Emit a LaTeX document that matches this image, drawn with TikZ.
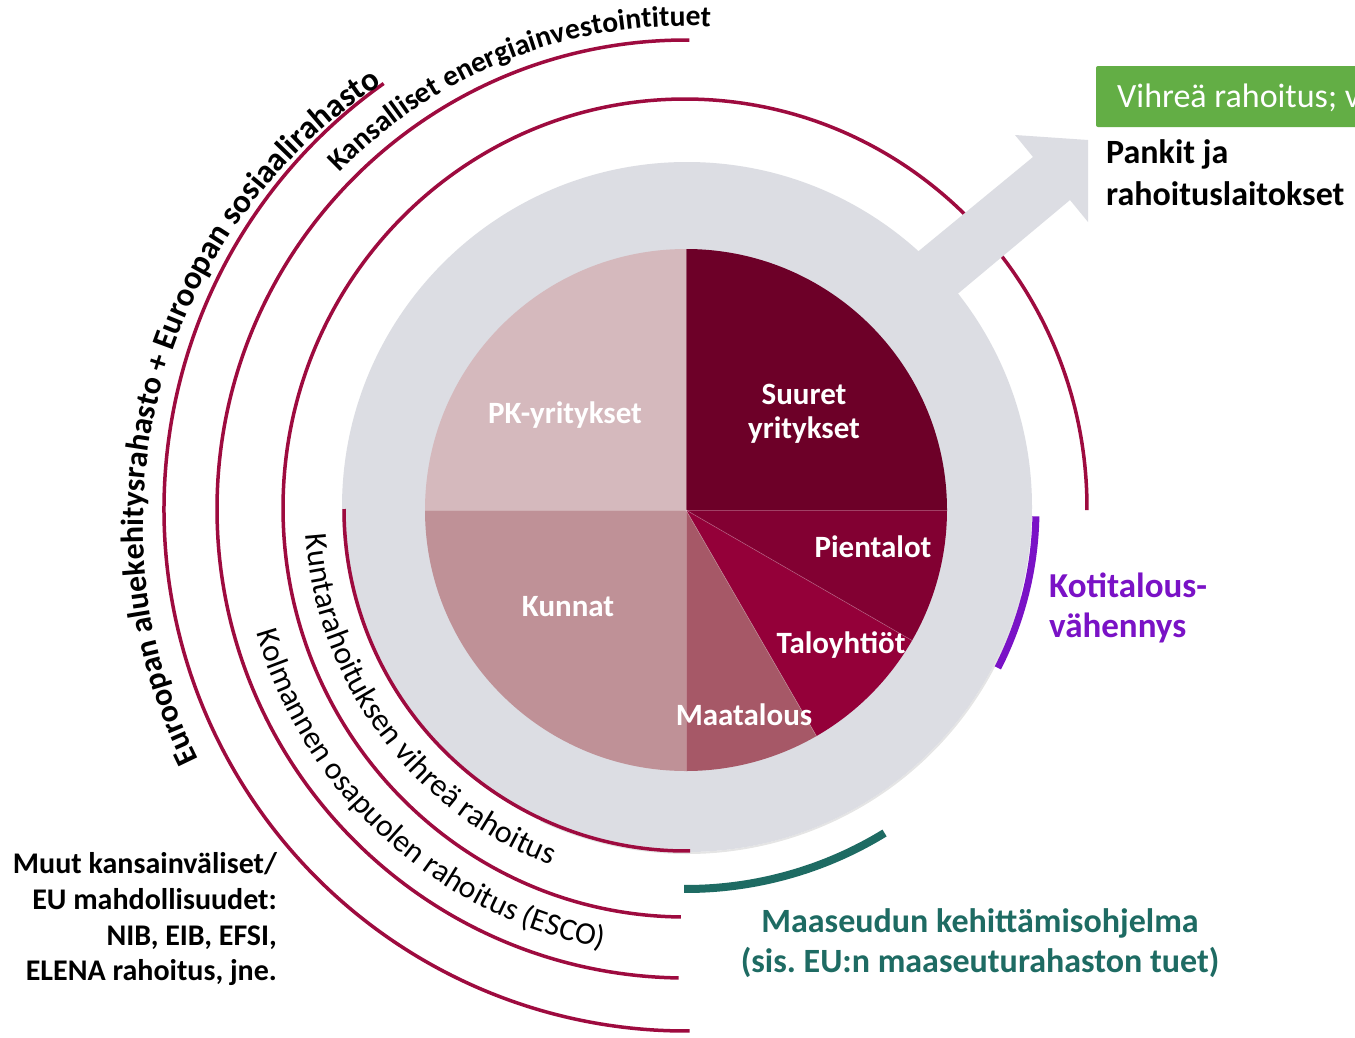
\documentclass[tikz,border=0pt]{standalone}
\usepackage{fontspec}
\setmainfont{Carlito}
\usetikzlibrary{decorations.text}
\frenchspacing
\definecolor{crim}{HTML}{9E0B3F}
\definecolor{ringgray}{HTML}{DCDDE3}
\definecolor{cSuuret}{HTML}{6D0028}
\definecolor{cPien}{HTML}{820032}
\definecolor{cTalo}{HTML}{940039}
\definecolor{cMaa}{HTML}{A65867}
\definecolor{cKunnat}{HTML}{BF9197}
\definecolor{cPK}{HTML}{D5B9BD}
\definecolor{cPurple}{HTML}{7A12C6}
\definecolor{cTeal}{HTML}{1E6B63}
\definecolor{cGreen}{HTML}{63AE45}
\newcommand\arcreg{\fontsize{32}{32}\selectfont}
\newcommand\arcregb{\fontsize{31.5}{31.5}\selectfont}
\newcommand\arcbold{\fontsize{29.5}{29.5}\selectfont\bfseries}
\newcommand\arcboldb{\fontsize{32}{32}\selectfont\bfseries}
\newcommand\arcboldc{\fontsize{33}{33}\selectfont\bfseries}
\tikzset{
  arcline/.style={draw=crim, line width=3.5pt},
  pielabel/.style={text=white, font=\fontsize{31}{36}\selectfont\bfseries, inner sep=0pt, anchor=base},
  blklabel/.style={text=black, font=\fontsize{30}{36}\selectfont\bfseries, inner sep=0pt},
  bigblk/.style={text=black, font=\fontsize{34}{42}\selectfont\bfseries, inner sep=0pt, anchor=base west},
  purplelabel/.style={text=cPurple, font=\fontsize{35}{40}\selectfont\bfseries, inner sep=0pt, anchor=base west},
  teallabel/.style={text=cTeal, font=\fontsize{34}{40}\selectfont\bfseries, inner sep=0pt, anchor=base},
  sep/.style={draw=white, draw opacity=0.25, line width=0.7pt}
}
\begin{document}
\begin{tikzpicture}[x=1pt,y=-1pt]
\clip (0,0) rectangle (1355,1037);
\fill[white] (0,0) rectangle (1355,1037);
\coordinate (c) at (686,509);
\coordinate (pc) at (686,510);
\coordinate (ec) at (685,508);
\coordinate (tc) at (669,525);
\coordinate (dc) at (687,507);
% gray disk with faint shadow
\path (dc) ++(15:346) coordinate (sh1);
\draw[black, draw opacity=0.10, line width=2pt] (sh1) arc[start angle=15, end angle=115, radius=346];
\fill[ringgray] (dc) circle[radius=345];
% crimson arcs
\path (c) ++(180:342) coordinate (a1s);
\draw[arcline] (a1s) arc[start angle=180, end angle=89.3, radius=342];
\path (ec) ++(0.3:402 and 409) coordinate (a2s);
\draw[arcline] (a2s) arc[start angle=0.3, end angle=-269.4, x radius=402, y radius=409];
\path (c) ++(270.4:469) coordinate (a3s);
\draw[arcline] (a3s) arc[start angle=270.4, end angle=90.9, radius=469];
\path (c) ++(234.6:522) coordinate (a4s);
\draw[arcline] (a4s) arc[start angle=234.6, end angle=89.6, radius=522];
% purple and teal arcs
\path (c) ++(1.2:350) coordinate (ps);
\draw[draw=cPurple, line width=7pt] (ps) arc[start angle=1.2, end angle=27, radius=350];
\path (c) ++(58.5:380) coordinate (ts);
\draw[draw=cTeal, line width=8pt] (ts) arc[start angle=58.5, end angle=90.3, radius=380];
% arrow
\fill[ringgray] (881,282) -- (1033,157) -- (1015,135) -- (1088,140) -- (1088,222) -- (1070,200) -- (924,322) -- cycle;
% pie
\fill[cSuuret] (pc) -- ++(-90:261) arc[start angle=-90, end angle=0, radius=261] -- cycle;
\fill[cPien] (pc) -- ++(0:261) arc[start angle=0, end angle=30, radius=261] -- cycle;
\fill[cTalo] (pc) -- ++(30:261) arc[start angle=30, end angle=60, radius=261] -- cycle;
\fill[cMaa] (pc) -- ++(60:261) arc[start angle=60, end angle=90, radius=261] -- cycle;
\fill[cKunnat] (pc) -- ++(90:261) arc[start angle=90, end angle=180, radius=261] -- cycle;
\fill[cPK] (pc) -- ++(180:261) arc[start angle=180, end angle=270, radius=261] -- cycle;
\foreach \a in {0,30,60,90,180,270} \draw[sep] (pc) -- ++(\a:261);
% pie labels
\node[pielabel] (suuret1) at (804,404) {Suuret};
\node[pielabel] (suuret2) at (804,438) {yritykset};
\node[pielabel] (pk) at (565,423) {PK-yritykset};
\node[pielabel] (kunnat) at (568,616) {Kunnat};
\node[pielabel] (pien) at (873,557) {Pientalot};
\node[pielabel] (talo) at (841,653) {Taloyhtiöt};
\node[pielabel] (maa) at (744,725) {Maatalous};
% texts along arcs
\path (tc) ++(153.5:526) coordinate (e1);
\path[decorate, decoration={text along path, text align=left,
  text={|\arcboldb|Euroopan aluekehitysrahasto + |\arcboldc|Euroopan sosiaalirahasto}}]
  (e1) arc[start angle=153.5, end angle=252, radius=526];
\path (c) ++(224.1:483) coordinate (k1);
\path[decorate, decoration={text along path, text align=left,
  text={|\arcbold|Kansalliset energiainvestointituet}}]
  (k1) arc[start angle=224.1, end angle=290, radius=483];
\path (c) ++(176.1:381) coordinate (ku1);
\path[decorate, decoration={text along path, text align=left,
  text={|\arcreg|Kuntarahoituksen vihreä rahoitus}}]
  (ku1) arc[start angle=176.1, end angle=92, radius=381];
\path (c) ++(163.9:447) coordinate (ko1);
\path[decorate, decoration={text along path, text align=left,
  text={|\arcregb|Kolmannen osapuolen rahoitus (ESCO)}}]
  (ko1) arc[start angle=163.9, end angle=85, radius=447];
% green box
\fill[cGreen, rounded corners=2pt] (1096,66) rectangle (1380,127);
\node[text=white, font=\fontsize{34}{40}\selectfont, inner sep=0pt, anchor=base west] (green) at (1117,107) {Vihreä rahoitus; v};
% right texts
\node[bigblk] (pankit1) at (1106,163) {Pankit ja};
\node[bigblk] (pankit2) at (1106,205) {rahoituslaitokset};
\node[purplelabel] (koti1) at (1049,597) {Kotitalous-};
\node[purplelabel] (koti2) at (1049,637) {vähennys};
\node[teallabel] (maas1) at (980,932) {Maaseudun kehittämisohjelma};
\node[teallabel] (maas2) at (980,972) {(sis. EU:n maaseuturahaston tuet)};
% left bottom text
\node[blklabel, anchor=base east] (muut1) at (277,873) {Muut kansainväliset/};
\node[blklabel, anchor=base east] (muut2) at (277,909) {EU mahdollisuudet:};
\node[blklabel, anchor=base east] (muut3) at (277,945) {NIB, EIB, EFSI,};
\node[blklabel, anchor=base east] (muut4) at (277,980) {ELENA rahoitus, jne.};
\end{tikzpicture}
\end{document}
